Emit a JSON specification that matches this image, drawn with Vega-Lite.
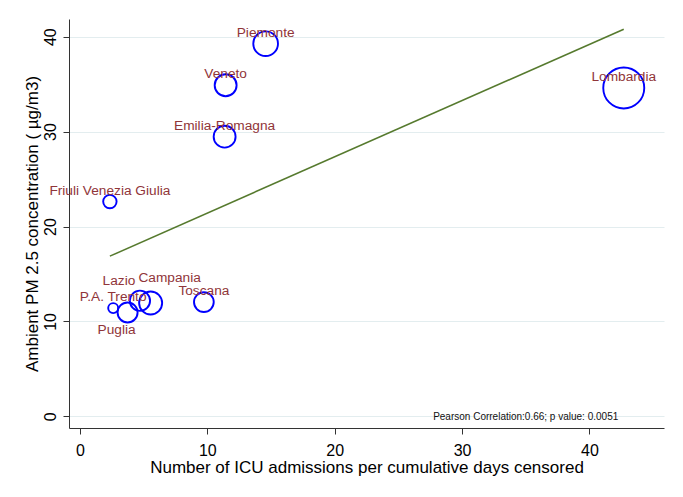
{
  "$schema": "https://vega.github.io/schema/vega-lite/v6.json",
  "width": 595,
  "height": 409,
  "autosize": {"type": "none"},
  "padding": {"left": 69, "top": 19, "right": 19, "bottom": 69},
  "background": "white",
  "config": {
    "view": {"stroke": null},
    "font": "Liberation Sans",
    "axis": {
      "labelFont": "Liberation Sans",
      "titleFont": "Liberation Sans",
      "labelColor": "#000000",
      "titleColor": "#000000",
      "titleFontWeight": "normal",
      "domainColor": "#333333",
      "tickColor": "#333333",
      "domainWidth": 1,
      "tickWidth": 1
    }
  },
  "datasets": {
    "regions": [
      {"region": "Piemonte", "icu": 14.58, "pm25": 39.26, "weight": 61},
      {"region": "Veneto", "icu": 11.44, "pm25": 34.88, "weight": 48},
      {"region": "Emilia-Romagna", "icu": 11.36, "pm25": 29.47, "weight": 48},
      {"region": "Friuli Venezia Giulia", "icu": 2.35, "pm25": 22.63, "weight": 18},
      {"region": "Lombardia", "icu": 42.70, "pm25": 34.60, "weight": 168},
      {"region": "P.A. Trento", "icu": 2.61, "pm25": 11.41, "weight": 10},
      {"region": "Puglia", "icu": 3.74, "pm25": 10.95, "weight": 40},
      {"region": "Lazio", "icu": 4.71, "pm25": 12.18, "weight": 41},
      {"region": "Campania", "icu": 5.55, "pm25": 11.94, "weight": 53},
      {"region": "Toscana", "icu": 9.73, "pm25": 12.04, "weight": 39}
    ],
    "note": [
      {"label": "Pearson Correlation:0.66; p value: 0.0051", "icu": 35, "pm25": -0.1}
    ]
  },
  "data": {"name": "regions"},
  "encoding": {
    "x": {
      "field": "icu",
      "type": "quantitative",
      "scale": {"domain": [-0.86, 45.86], "nice": false, "zero": false},
      "axis": {
        "title": "Number of ICU admissions per cumulative days censored",
        "titleFontSize": 17,
        "titlePadding": 1,
        "values": [0, 10, 20, 30, 40],
        "labelFontSize": 16,
        "tickSize": 6,
        "labelPadding": 8,
        "grid": false
      }
    },
    "y": {
      "field": "pm25",
      "type": "quantitative",
      "scale": {"domain": [-1.22, 41.86], "nice": false, "zero": false},
      "axis": {
        "title": "Ambient PM 2.5 concentration ( µg/m3)",
        "titleFontSize": 17,
        "titlePadding": 1,
        "values": [0, 10, 20, 30, 40],
        "labelFontSize": 16,
        "labelAngle": 270,
        "labelAlign": "center",
        "labelBaseline": "bottom",
        "labelPadding": 5,
        "tickSize": 6,
        "grid": true,
        "gridColor": "#e3edef",
        "gridWidth": 1
      }
    }
  },
  "layer": [
    {
      "transform": [{"regression": "pm25", "on": "icu"}],
      "mark": {"type": "line", "color": "#567a2e", "strokeWidth": 1.6}
    },
    {
      "mark": {"type": "point", "shape": "circle", "filled": false, "color": "#0000ff", "strokeWidth": 1.9, "opacity": 1},
      "encoding": {
        "size": {
          "field": "weight",
          "type": "quantitative",
          "scale": {"domain": [0, 200], "range": [0, 2000]},
          "legend": null
        }
      }
    },
    {
      "transform": [{"filter": "datum.region !== 'Lazio' && datum.region !== 'Campania' && datum.region !== 'Puglia'"}],
      "mark": {"type": "text", "fontSize": 13.7, "color": "#903539", "baseline": "middle", "align": "center", "dy": -11},
      "encoding": {"text": {"field": "region"}}
    },
    {
      "transform": [{"filter": "datum.region === 'Lazio'"}],
      "mark": {"type": "text", "fontSize": 13.7, "color": "#903539", "baseline": "middle", "align": "center", "dx": -21, "dy": -20},
      "encoding": {"text": {"field": "region"}}
    },
    {
      "transform": [{"filter": "datum.region === 'Campania'"}],
      "mark": {"type": "text", "fontSize": 13.7, "color": "#903539", "baseline": "middle", "align": "center", "dx": 19, "dy": -25.5},
      "encoding": {"text": {"field": "region"}}
    },
    {
      "transform": [{"filter": "datum.region === 'Puglia'"}],
      "mark": {"type": "text", "fontSize": 13.7, "color": "#903539", "baseline": "middle", "align": "center", "dx": -11, "dy": 17.5},
      "encoding": {"text": {"field": "region"}}
    },
    {
      "data": {"name": "note"},
      "mark": {"type": "text", "fontSize": 10, "color": "#111111", "baseline": "middle", "align": "center"},
      "encoding": {
        "text": {"field": "label"}
      }
    }
  ]
}
